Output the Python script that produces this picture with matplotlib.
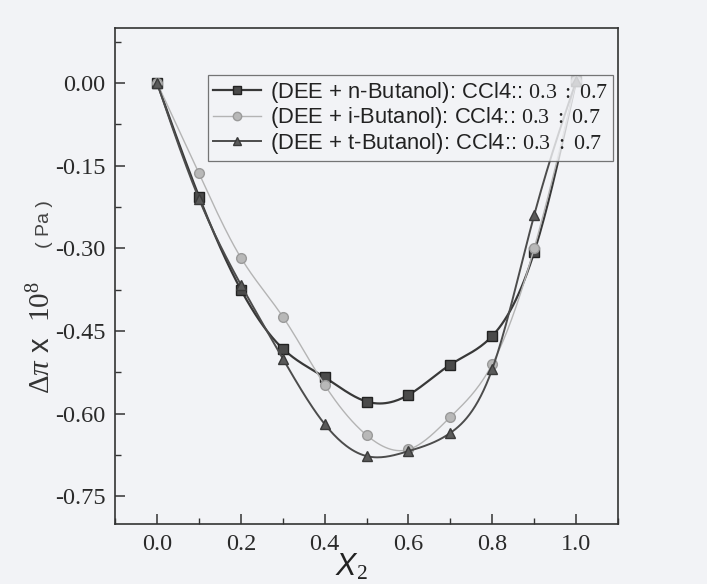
import numpy as np
import matplotlib
matplotlib.use('Agg')
import matplotlib.pyplot as plt
from matplotlib.ticker import MultipleLocator

plt.rcParams['mathtext.fontset'] = 'custom'
plt.rcParams['mathtext.rm'] = 'Liberation Serif'
plt.rcParams['mathtext.it'] = 'Liberation Serif:italic'
plt.rcParams['mathtext.sf'] = 'Liberation Sans:italic'

# mole fraction X2
x2 = [0.0, 0.1, 0.2, 0.3, 0.4, 0.5, 0.6, 0.7, 0.8, 0.9, 1.0]
# delta pi x 10^8 (Pa)
n_butanol = [0.00, -0.206, -0.375, -0.482, -0.534, -0.578, -0.566, -0.511, -0.459, -0.307, 0.003]
i_butanol = [0.00, -0.164, -0.317, -0.424, -0.548, -0.639, -0.665, -0.606, -0.510, -0.300, 0.003]
t_butanol = [0.00, -0.210, -0.366, -0.500, -0.619, -0.677, -0.668, -0.635, -0.519, -0.240, 0.003]

labels = ['(DEE + n-Butanol): CCl4:: $\\mathrm{0.3\\ :\\ 0.7}$',
          '(DEE + i-Butanol): CCl4:: $\\mathrm{0.3\\ :\\ 0.7}$',
          '(DEE + t-Butanol): CCl4:: $\\mathrm{0.3\\ :\\ 0.7}$']
xticks = [0.0, 0.2, 0.4, 0.6, 0.8, 1.0]
yticks = [0.0, -0.15, -0.30, -0.45, -0.60, -0.75]


def natural_spline(x, y, xs):
    # 자연 3차 스플라인 (scipy 없이)
    x = np.asarray(x, float)
    y = np.asarray(y, float)
    n = len(x)
    h = np.diff(x)
    A = np.zeros((n, n))
    b = np.zeros(n)
    A[0, 0] = 1
    A[-1, -1] = 1
    for k in range(1, n - 1):
        A[k, k - 1] = h[k - 1]
        A[k, k] = 2 * (h[k - 1] + h[k])
        A[k, k + 1] = h[k]
        b[k] = 6 * ((y[k + 1] - y[k]) / h[k] - (y[k] - y[k - 1]) / h[k - 1])
    M = np.linalg.solve(A, b)
    idx = np.clip(np.searchsorted(x, xs) - 1, 0, n - 2)
    t0 = x[idx]
    t1 = x[idx + 1]
    hh = t1 - t0
    a = (t1 - xs) / hh
    c = (xs - t0) / hh
    return (a * y[idx] + c * y[idx + 1]
            + ((a ** 3 - a) * M[idx] + (c ** 3 - c) * M[idx + 1]) * hh ** 2 / 6)


bg = '#f2f3f6'
fig = plt.figure(figsize=(7.07, 5.84), dpi=100)
fig.patch.set_facecolor(bg)
ax = fig.add_axes([0.163, 0.103, 0.711, 0.849])
ax.set_facecolor(bg)

styles = [
    dict(color='#383838', lw=1.6, marker='s', mfc='#4a4a4a', mec='#222222', ms=7),
    dict(color='#b4b4b4', lw=1.0, marker='o', mfc='#b8b8b8', mec='#9a9a9a', ms=7),
    dict(color='#4c4c4c', lw=1.4, marker='^', mfc='#5a5a5a', mec='#3a3a3a', ms=7),
]
xs = np.linspace(0, 1, 300)
for ys, lab, st in zip([n_butanol, i_butanol, t_butanol], labels, styles):
    ax.plot(xs, natural_spline(x2, ys, xs), color=st['color'], lw=st['lw'])
    ax.plot(x2, ys, ls='none', marker=st['marker'], mfc=st['mfc'],
            mec=st['mec'], ms=st['ms'])
    # 범례용 핸들
    ax.plot([], [], color=st['color'], lw=st['lw'], marker=st['marker'],
            mfc=st['mfc'], mec=st['mec'], ms=st['ms'] - 1, label=lab)

ax.set_xlim(-0.1, 1.1)
ax.set_ylim(-0.80, 0.10)
ax.xaxis.set_minor_locator(MultipleLocator(0.1))
ax.yaxis.set_minor_locator(MultipleLocator(0.075))
ax.set_yticks(yticks)
ax.set_yticklabels(['%.2f' % v if v != 0 else '0.00' for v in yticks])
ax.set_xticks(xticks)
ax.set_xticklabels(['%.1f' % v for v in xticks])
ax.tick_params(which='both', direction='in', colors='#333333')
ax.tick_params(which='major', length=7, width=1.1, labelsize=17.5, pad=7)
ax.tick_params(which='minor', length=4, width=1.0)
for lbl in ax.get_xticklabels() + ax.get_yticklabels():
    lbl.set_fontfamily('Liberation Serif')
    lbl.set_color('#2a2a2a')
for sp in ax.spines.values():
    sp.set_color('#333333')
    sp.set_linewidth(1.2)

ax.set_xlabel('$\\mathsf{X}_{2}$', fontsize=22, color='#222222')
ax.xaxis.set_label_coords(0.47, -0.055)

# y축 라벨: 크기가 다른 두 부분
ax.text(-0.146, 0.262, '$\\Delta\\pi$ x  $\\mathrm{10}^{8}$', rotation=90,
        fontsize=21, family='Liberation Sans', color='#333333',
        ha='center', va='bottom', transform=ax.transAxes)
ax.text(-0.140, 0.556, '( Pa )', rotation=90, fontsize=14,
        family='Liberation Sans', color='#444444',
        ha='center', va='bottom', transform=ax.transAxes)

leg = ax.legend(loc='upper right', bbox_to_anchor=(0.99, 0.905),
                prop={'family': 'Liberation Sans', 'size': 15.8},
                frameon=True, fancybox=False, handlelength=2.2,
                handletextpad=0.4, borderpad=0.22, labelspacing=0.02,
                borderaxespad=0)
leg.get_frame().set_edgecolor('#555555')
leg.get_frame().set_facecolor(bg)
leg.get_frame().set_linewidth(0.9)
for t in leg.get_texts():
    t.set_color('#222222')

fig.savefig('out.png', dpi=100, facecolor=fig.get_facecolor())
